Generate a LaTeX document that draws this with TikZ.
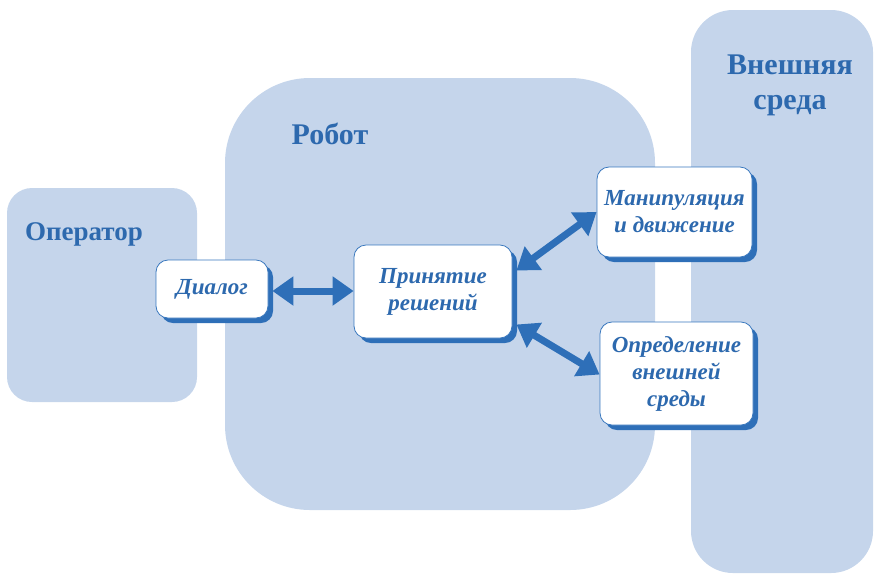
\documentclass[tikz,border=0pt]{standalone}
\usepackage{fontspec}
\setmainfont{Liberation Serif}
\usetikzlibrary{arrows.meta,shadows}
\definecolor{panel}{HTML}{C5D5EB}
\definecolor{ink}{HTML}{2D69AE}
\definecolor{shade}{HTML}{2E6FB8}
\definecolor{edge}{HTML}{3A78BE}
\tikzset{
  panel/.style={fill=panel, draw=none},
  heading/.style={text=ink, font=\bfseries\fontsize{30}{35}\selectfont, align=center},
  block/.style={draw=edge, line width=0.8pt, fill=white, rounded corners=12pt,
    text=ink, font=\bfseries\itshape\fontsize{23}{27}\selectfont, align=center,
    inner sep=0pt,
    drop shadow={shadow xshift=5pt, shadow yshift=-5pt, fill=shade, opacity=1}},
  link/.style={draw=shade, line width=7pt,
    {Triangle[width=28pt,length=21pt]}-{Triangle[width=28pt,length=21pt]}}
}
\begin{document}
\begin{tikzpicture}[x=1pt,y=-1pt]
\useasboundingbox (0,0) rectangle (874,574);
% background regions
\fill[panel, rounded corners=25pt] (7,188) rectangle (197,402);
\fill[panel, rounded corners=85pt] (225,78) rectangle (655,510);
\fill[panel, rounded corners=42pt] (691,10) rectangle (873,573);
% region titles
\node[heading, font=\bfseries\fontsize{27}{32}\selectfont] (op) at (84,234) {Оператор};
\node[heading] (rob) at (330,134) {Робот};
\node[heading] (env) at (790,85) {Внешняя\\среда};
% function blocks
\node[block, minimum width=112pt, minimum height=58pt] (dlg) at (212,289) {Диалог};
\node[block, minimum width=158pt, minimum height=93pt] (dec) at (433,291.5) {Принятие\\решений};
\node[block, minimum width=155pt, minimum height=90pt] (man) at (674.5,212) {Манипуляция\\и движение};
\node[block, minimum width=153pt, minimum height=103pt] (det) at (676.5,373.5) {Определение\\внешней\\среды};
% links
\draw[link] ([xshift=4pt,yshift=-2pt]dlg.east) -- ([yshift=-2pt]dlg.east -| dec.west);
\draw[link] ([xshift=4pt,yshift=21pt]dec.east) -- (man.west);
\draw[link] ([xshift=4pt,yshift=-33pt]dec.east) -- ([yshift=-1pt]det.west);
\end{tikzpicture}
\end{document}
